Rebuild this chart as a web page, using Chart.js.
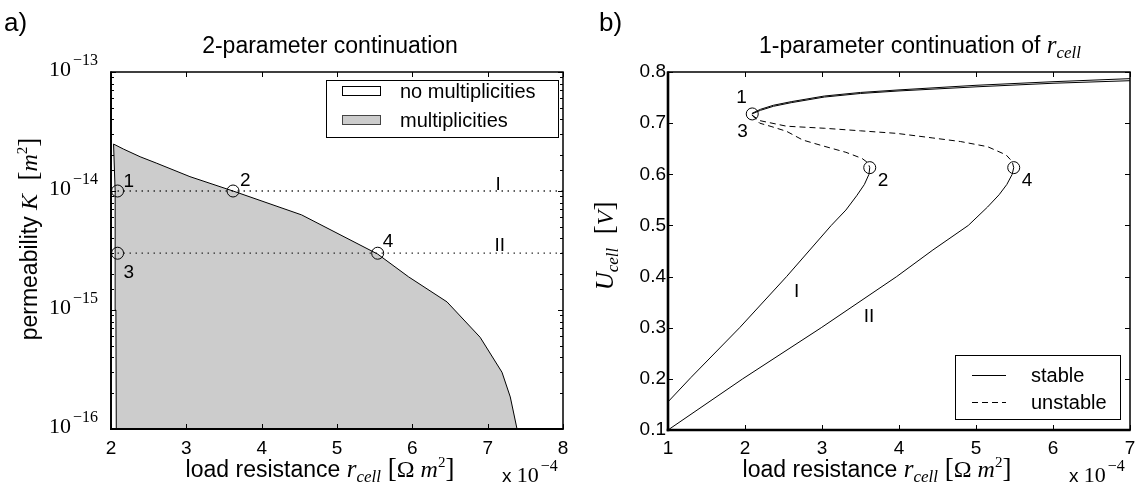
<!DOCTYPE html>
<html lang="en">
<head>
<meta charset="UTF-8" />
<title>Continuation diagrams</title>
<script src="https://cdn.jsdelivr.net/npm/chart.js"></script>
<style>
  body { margin: 0; background: #fff; }
  .wrap { position: relative; width: 1141px; height: 493px; }
  canvas { position: absolute; top: 0; }
</style>
</head>
<body>
<div class="wrap">
  <canvas id="left" width="570" height="493" style="left:0"></canvas>
  <canvas id="right" width="571" height="493" style="left:570px"></canvas>
</div>
<script>
// ---- a) 2-parameter continuation (r_cell in 1e-4 Ohm m^2, K in m^2) ----
const boundR = [2.07, 2.065, 2.055, 2.034, 2.166, 2.387, 2.608, 3.048, 3.62, 4.53, 5.54, 5.95, 6.46, 6.90, 7.19, 7.30, 7.39];
const boundK = [1e-16, 1e-15, 1e-14, 2.48e-14, 2.25e-14, 1.94e-14, 1.71e-14, 1.32e-14, 1.0e-14, 6.3e-15, 2.95e-15, 1.9e-15, 1.17e-15, 5.9e-16, 3.0e-16, 1.86e-16, 1e-16];
const cutIR = [2.087, 8];
const cutIK = [1e-14, 1e-14];
const cutIIR = [2.087, 8];
const cutIIK = [3e-15, 3e-15];
const foldR = [2.087, 3.62, 2.087, 5.54];
const foldK = [1e-14, 1e-14, 3e-15, 3e-15];

// ---- b) 1-parameter continuation of r_cell (U_cell in V) ----
const upIR = [2.09, 2.2, 2.37, 2.6, 3.03, 3.5, 4.0, 5.0, 6.0, 7.0];
const upIU = [0.719, 0.727, 0.735, 0.742, 0.753, 0.760, 0.765, 0.774, 0.781, 0.787];
const upIIR = [2.09, 2.2, 2.37, 2.6, 3.03, 3.5, 4.0, 5.0, 6.0, 7.0];
const upIIU = [0.718, 0.725, 0.733, 0.740, 0.751, 0.758, 0.763, 0.771, 0.778, 0.783];
const unIR = [2.09, 2.19, 2.35, 2.54, 2.75, 3.0, 3.31, 3.52, 3.6, 3.62];
const unIU = [0.716, 0.700, 0.693, 0.684, 0.667, 0.656, 0.643, 0.631, 0.622, 0.613];
const unIIR = [2.09, 2.19, 2.54, 3.03, 3.5, 3.97, 4.44, 4.8, 5.15, 5.39, 5.47, 5.49];
const unIIU = [0.716, 0.705, 0.694, 0.690, 0.685, 0.680, 0.671, 0.664, 0.654, 0.638, 0.625, 0.613];
const loIR = [3.62, 3.61, 3.55, 3.45, 3.31, 3.12, 2.54, 1.93, 1.3, 1.0];
const loIU = [0.613, 0.600, 0.580, 0.558, 0.530, 0.500, 0.400, 0.300, 0.203, 0.155];
const loIIR = [5.49, 5.47, 5.40, 5.30, 5.15, 4.90, 4.44, 3.97, 2.99, 1.97, 1.0];
const loIIU = [0.613, 0.600, 0.580, 0.560, 0.536, 0.500, 0.452, 0.400, 0.300, 0.200, 0.100];
const markR = [2.094, 3.62, 5.49];
const markU = [0.718, 0.613, 0.613];

const SANS = '"Liberation Sans", Arial, sans-serif';
const SERIF = '"Liberation Serif", "Times New Roman", serif';
const pts = (xs, ys) => xs.map((v, i) => ({ x: v, y: ys[i] }));

function seg(ctx, x1, y1, x2, y2) {
  ctx.beginPath(); ctx.moveTo(x1, y1); ctx.lineTo(x2, y2); ctx.stroke();
}

// draws mixed-font text: parts = [text, font, dy, gapBefore]
function rich(ctx, parts, x, y, align) {
  let w = 0;
  parts.forEach(p => { ctx.font = p[1]; w += ctx.measureText(p[0]).width + (p[3] || 0); });
  let cx = align === 'center' ? x - w / 2 : align === 'right' ? x - w : x;
  ctx.textAlign = 'left';
  ctx.textBaseline = 'alphabetic';
  ctx.fillStyle = '#000';
  parts.forEach(p => {
    ctx.font = p[1];
    cx += p[3] || 0;
    ctx.fillText(p[0], cx, y + (p[2] || 0));
    cx += ctx.measureText(p[0]).width;
  });
}

const isDecade = v => Math.abs(Math.log10(v) - Math.round(Math.log10(v))) < 1e-6;
const pow10 = e => [['10', '22px ' + SERIF], ['\u2212' + Math.abs(e), '16px ' + SERIF, -11, 2]];

function boxPlugin(cfg) {
  return {
    id: 'box',
    beforeDatasetsDraw(chart) {
      if (!cfg.region) return;
      const { ctx } = chart;
      const meta = chart.getDatasetMeta(0);
      ctx.save();
      ctx.beginPath();
      meta.data.forEach((p, i) => i ? ctx.lineTo(p.x, p.y) : ctx.moveTo(p.x, p.y));
      ctx.closePath();
      ctx.fillStyle = '#cccccc';
      ctx.fill();
      ctx.restore();
    },
    afterDatasetsDraw(chart) {
      const { ctx, chartArea: a, scales: { x, y } } = chart;
      ctx.save();
      ctx.strokeStyle = '#000';
      ctx.lineWidth = 1;
      x.ticks.forEach(t => {
        const p = Math.round(x.getPixelForValue(t.value)) + 0.5;
        seg(ctx, p, a.bottom, p, a.bottom - 5);
        seg(ctx, p, a.top, p, a.top + 5);
      });
      y.ticks.forEach(t => {
        const p = Math.round(y.getPixelForValue(t.value)) + 0.5;
        const len = (!cfg.log || isDecade(t.value)) ? 5 : 3;
        seg(ctx, a.left, p, a.left + len, p);
        seg(ctx, a.right, p, a.right - len, p);
      });
      ctx.lineWidth = cfg.thin;
      ctx.strokeRect(a.left, a.top, a.right - a.left, a.bottom - a.top);
      ctx.lineWidth = cfg.thick;
      seg(ctx, a.left, a.top - 0.5, a.left, a.bottom + cfg.thick / 2);
      seg(ctx, a.left - cfg.thick / 2, a.bottom, a.right + 0.5, a.bottom);

      // log tick labels 10^n
      if (cfg.log) {
        y.ticks.forEach(t => {
          if (!isDecade(t.value)) return;
          const p = y.getPixelForValue(t.value);
          rich(ctx, pow10(Math.round(Math.log10(t.value))), a.left - 13, p + 4, 'right');
        });
      }
      // text annotations at data positions
      cfg.notes.forEach(n => {
        const px = x.getPixelForValue(n.x) + (n.dx || 0);
        const py = y.getPixelForValue(n.y) + (n.dy || 0);
        rich(ctx, [[n.t, '19px ' + SANS]], px, py, n.align || 'left');
      });
      // exponent under the x axis
      rich(ctx, [['x ', '19px ' + SANS]].concat(pow10(-4)), a.right - 61, 482, 'left');
      ctx.restore();
      cfg.extra(ctx, a);
    }
  };
}

function xScale(min, max, h, pad) {
  return {
    type: 'linear', min: min, max: max,
    ticks: { stepSize: 1, color: '#000', font: { family: SANS, size: 19 }, padding: pad },
    grid: { display: false, drawTicks: false }, border: { display: false },
    afterFit(s) { s.height = h; s.paddingLeft = 0; s.paddingRight = 0; }
  };
}

const common = {
  responsive: false, animation: false, events: [],
  plugins: { legend: { display: false }, tooltip: { enabled: false } }
};

// ---------- chart a ----------
new Chart(document.getElementById('left'), {
  type: 'scatter',
  data: {
    datasets: [
      { data: pts(boundR, boundK), showLine: true, borderColor: '#000', borderWidth: 1, pointRadius: 0, fill: false },
      { data: pts(cutIR, cutIK), showLine: true, borderColor: '#222', borderWidth: 1.3, borderDash: [1.4, 4.6], pointRadius: 0 },
      { data: pts(cutIIR, cutIIK), showLine: true, borderColor: '#222', borderWidth: 1.3, borderDash: [1.4, 4.6], pointRadius: 0 },
      { data: pts(foldR, foldK), showLine: false, pointRadius: 6, pointStyle: 'circle',
        pointBackgroundColor: 'rgba(0,0,0,0)', pointBorderColor: '#000', pointBorderWidth: 1 }
    ]
  },
  options: Object.assign({}, common, {
    layout: { padding: { left: 0, right: 5, top: 72, bottom: 0 } },
    scales: {
      x: xScale(2, 8, 64, 8),
      y: {
        type: 'logarithmic', min: 1e-16, max: 1e-13,
        ticks: { display: false }, grid: { display: false, drawTicks: false }, border: { display: false },
        afterFit(s) { s.width = 111; }
      }
    }
  }),
  plugins: [boxPlugin({
    log: true, region: true, thin: 1.5, thick: 1.8,
    notes: [
      { x: 2.087, y: 1e-14, t: '1', dx: 6, dy: -4 },
      { x: 3.62, y: 1e-14, t: '2', dx: 7, dy: -5 },
      { x: 2.087, y: 3e-15, t: '3', dx: 6, dy: 25 },
      { x: 5.54, y: 3e-15, t: '4', dx: 5, dy: -6 },
      { x: 7.14, y: 1e-14, t: 'I', dy: -1, align: 'center' },
      { x: 7.16, y: 3e-15, t: 'II', dy: -2, align: 'center' }
    ],
    extra(ctx, a) {
      rich(ctx, [['a)', '26px ' + SANS]], 4, 31, 'left');
      rich(ctx, [['2-parameter continuation', '23px ' + SANS]], 330, 53, 'center');
      rich(ctx, [['load resistance ', '23px ' + SANS], ['r', 'italic 25px ' + SERIF], ['cell', 'italic 17px ' + SERIF, 5],
        [' [', '27px ' + SERIF], ['\u03a9', '24px ' + SERIF], [' m', 'italic 24px ' + SERIF], ['2', '15px ' + SERIF, -10], [']', '27px ' + SERIF]],
        320, 477, 'center');
      ctx.save();
      ctx.translate(37, 239);
      ctx.rotate(-Math.PI / 2);
      rich(ctx, [['permeability ', '23px ' + SANS], ['K', 'italic 24px ' + SERIF], ['  [', '27px ' + SERIF],
        ['m', 'italic 24px ' + SERIF], ['2', '15px ' + SERIF, -10], [']', '27px ' + SERIF]], 0, 0, 'center');
      ctx.restore();
      // legend
      ctx.save();
      ctx.fillStyle = '#fff';
      ctx.fillRect(326, 80, 232, 57);
      ctx.strokeStyle = '#000';
      ctx.lineWidth = 1;
      ctx.strokeRect(326.5, 80.5, 232, 57);
      ctx.strokeRect(342.5, 86.5, 38, 9);
      ctx.fillStyle = '#cccccc';
      ctx.fillRect(342.5, 115.5, 38, 9);
      ctx.strokeStyle = '#444';
      ctx.strokeRect(342.5, 115.5, 38, 9);
      ctx.restore();
      rich(ctx, [['no multiplicities', '20px ' + SANS]], 400, 98, 'left');
      rich(ctx, [['multiplicities', '20px ' + SANS]], 400, 127, 'left');
    }
  })]
});

// ---------- chart b ----------
const solid = (r, u) => ({ data: pts(r, u), showLine: true, borderColor: '#000', borderWidth: 1, pointRadius: 0 });
const dashed = (r, u) => ({ data: pts(r, u), showLine: true, borderColor: '#000', borderWidth: 1, borderDash: [6, 4], pointRadius: 0 });

new Chart(document.getElementById('right'), {
  type: 'scatter',
  data: {
    datasets: [
      solid(upIR, upIU), solid(upIIR, upIIU),
      dashed(unIR, unIU), dashed(unIIR, unIIU),
      solid(loIR, loIU), solid(loIIR, loIIU),
      { data: pts(markR, markU), showLine: false, pointRadius: 6, pointStyle: 'circle',
        pointBackgroundColor: 'rgba(0,0,0,0)', pointBorderColor: '#000', pointBorderWidth: 1 }
    ]
  },
  options: Object.assign({}, common, {
    layout: { padding: { left: 0, right: 11, top: 72, bottom: 0 } },
    scales: {
      x: xScale(1, 7, 63, 7),
      y: {
        type: 'linear', min: 0.1, max: 0.8,
        ticks: { stepSize: 0.1, color: '#000', font: { family: SANS, size: 19 }, padding: 2,
          callback: v => v.toFixed(1) },
        grid: { display: false, drawTicks: false }, border: { display: false },
        afterFit(s) { s.width = 98; }
      }
    }
  }),
  plugins: [boxPlugin({
    log: false, region: false, thin: 1.5, thick: 2.6,
    notes: [
      { x: 2.094, y: 0.718, t: '1', dx: -16, dy: -11 },
      { x: 2.094, y: 0.718, t: '3', dx: -15, dy: 23 },
      { x: 3.62, y: 0.613, t: '2', dx: 8, dy: 18 },
      { x: 5.49, y: 0.613, t: '4', dx: 8, dy: 18 },
      { x: 2.67, y: 0.36, t: 'I', align: 'center' },
      { x: 3.61, y: 0.3115, t: 'II', align: 'center' }
    ],
    extra(ctx, a) {
      rich(ctx, [['b)', '26px ' + SANS]], 29, 31, 'left');
      rich(ctx, [['1-parameter continuation of ', '23px ' + SANS], ['r', 'italic 25px ' + SERIF], ['cell', 'italic 17px ' + SERIF, 5]],
        350, 53, 'center');
      rich(ctx, [['load resistance ', '23px ' + SANS], ['r', 'italic 25px ' + SERIF], ['cell', 'italic 17px ' + SERIF, 5],
        [' [', '27px ' + SERIF], ['\u03a9', '24px ' + SERIF], [' m', 'italic 24px ' + SERIF], ['2', '15px ' + SERIF, -10], [']', '27px ' + SERIF]],
        307, 477, 'center');
      ctx.save();
      ctx.translate(43, 246);
      ctx.rotate(-Math.PI / 2);
      rich(ctx, [['U', 'italic 25px ' + SERIF], ['cell', 'italic 17px ' + SERIF, 5], ['  [', '27px ' + SERIF],
        ['V', 'italic 24px ' + SERIF], [']', '27px ' + SERIF]], 0, 0, 'center');
      ctx.restore();
      // legend
      ctx.save();
      ctx.fillStyle = '#fff';
      ctx.fillRect(385, 355, 165, 64);
      ctx.strokeStyle = '#000';
      ctx.lineWidth = 1;
      ctx.strokeRect(385.5, 355.5, 165, 64);
      seg(ctx, 402, 375.5, 436, 375.5);
      ctx.setLineDash([6, 4]);
      seg(ctx, 402, 402.5, 436, 402.5);
      ctx.restore();
      rich(ctx, [['stable', '20px ' + SANS]], 461, 382, 'left');
      rich(ctx, [['unstable', '20px ' + SANS]], 461, 409, 'left');
    }
  })]
});
</script>
</body>
</html>
